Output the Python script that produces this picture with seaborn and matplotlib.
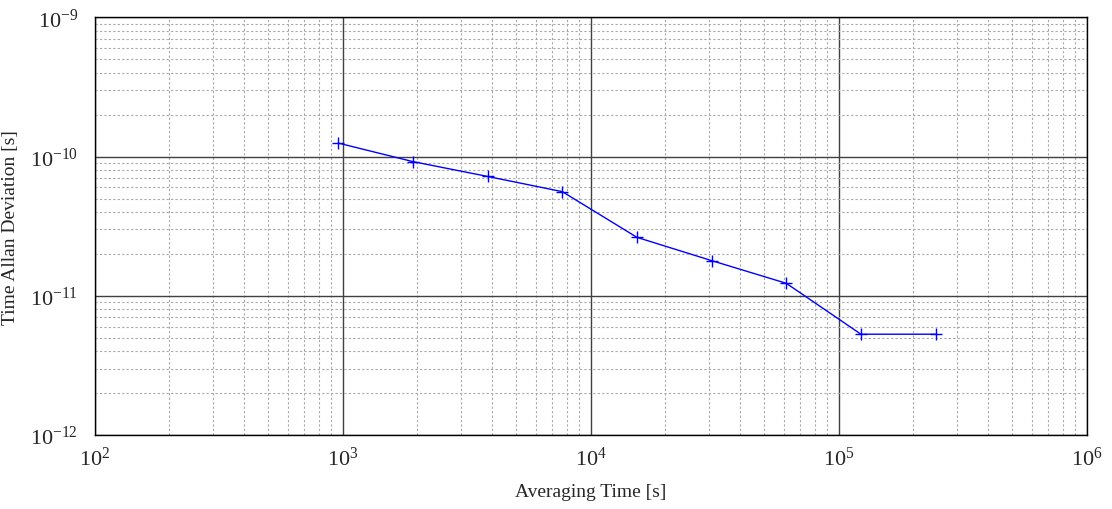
import matplotlib
matplotlib.use("Agg")
import matplotlib.pyplot as plt
import seaborn as sns
import pandas as pd
from matplotlib.ticker import LogLocator, NullFormatter

tau = [960, 1920, 3840, 7680, 15360, 30720, 61440, 122880, 245760]
tdev = [1.25e-10, 9.2e-11, 7.2e-11, 5.6e-11, 2.63e-11, 1.79e-11, 1.23e-11, 5.3e-12, 5.3e-12]

sns.set_style("white")
plt.rcParams['font.family'] = ['Liberation Serif', 'DejaVu Serif']
plt.rcParams['mathtext.fontset'] = 'stix'

df = pd.DataFrame({"tau": tau, "tdev": tdev})

fig = plt.figure(figsize=(11.12, 5.10), dpi=100)
ax = fig.add_axes([0.0852, 0.145, 0.8921, 0.819])

sns.lineplot(data=df, x="tau", y="tdev", ax=ax, color="blue", linewidth=1.0,
             marker="+", markersize=9, markeredgewidth=1.0, markeredgecolor="blue")

ax.set_xscale("log")
ax.set_yscale("log")
ax.set_xlim(1e2, 1e6)
ax.set_ylim(1e-12, 1e-9)

ax.xaxis.set_major_locator(LogLocator(base=10, numticks=10))
ax.yaxis.set_major_locator(LogLocator(base=10, numticks=10))
ax.xaxis.set_minor_locator(LogLocator(base=10, subs=range(2, 10), numticks=20))
ax.yaxis.set_minor_locator(LogLocator(base=10, subs=range(2, 10), numticks=20))
ax.xaxis.set_minor_formatter(NullFormatter())
ax.yaxis.set_minor_formatter(NullFormatter())

ax.grid(True, which="major", color="#404040", linestyle="-", linewidth=1.0)
ax.grid(True, which="minor", color="#a8a8a8", linestyle=(0, (2, 2)), linewidth=0.8)
ax.set_axisbelow(True)

for s in ax.spines.values():
    s.set_color("black")
    s.set_linewidth(1.0)

ax.tick_params(axis="x", which="both", length=0, labelsize=16, pad=8)
ax.tick_params(axis="y", which="both", length=0, labelsize=16, pad=12)
ax.set_xlabel("Averaging Time [s]", fontsize=14, labelpad=10)
ax.set_ylabel("Time Allan Deviation [s]", fontsize=14, labelpad=8)

fig.savefig("out.png", dpi=100, facecolor="white")
